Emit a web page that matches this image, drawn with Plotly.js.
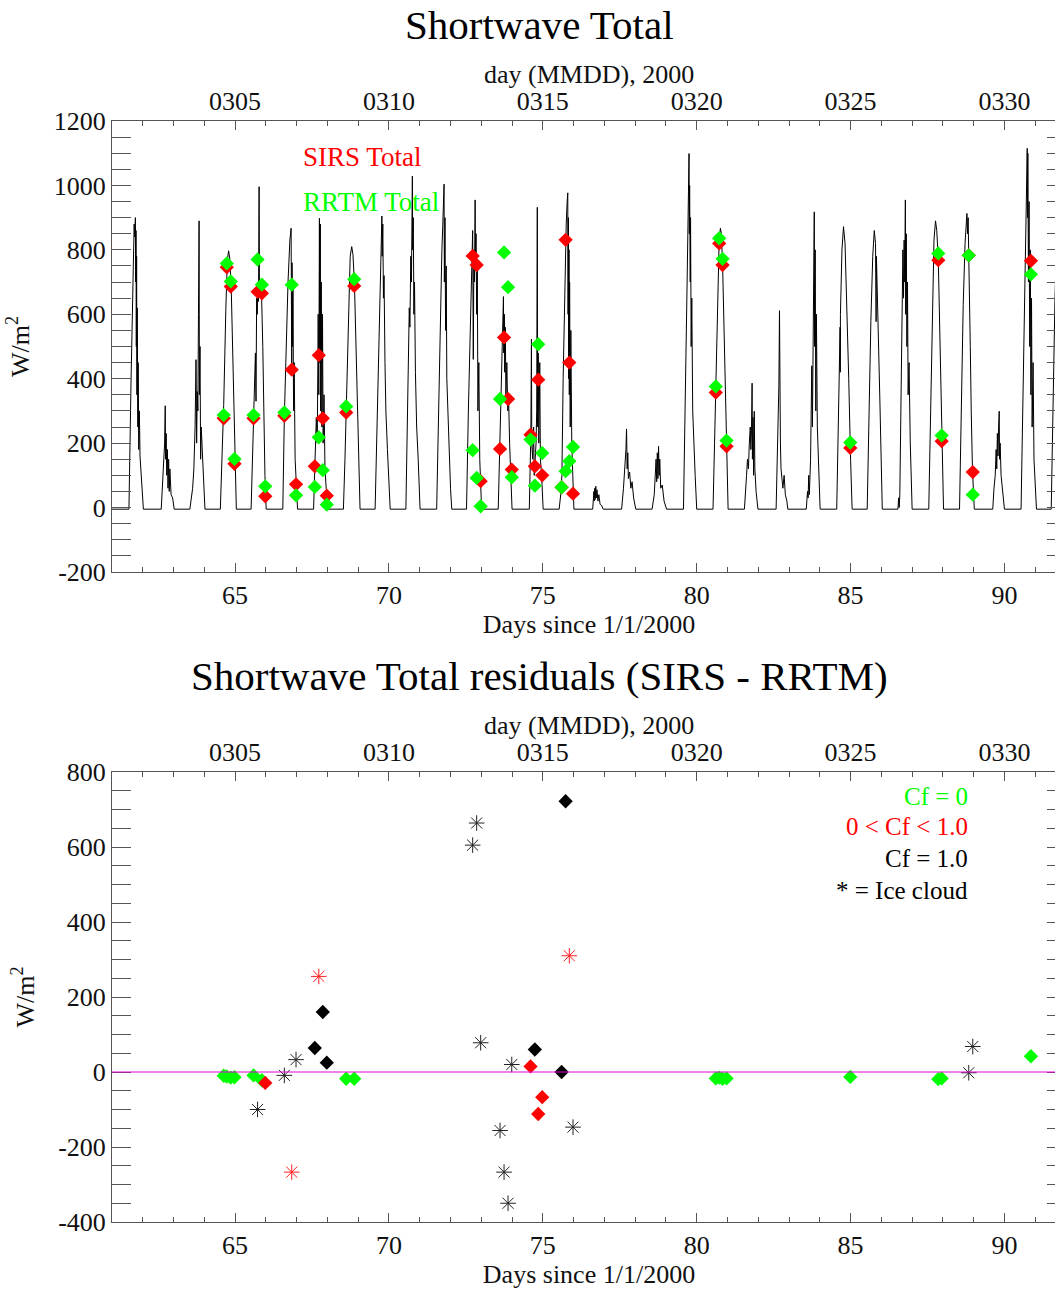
<!DOCTYPE html>
<html><head><meta charset="utf-8">
<script src="https://cdn.plot.ly/plotly-3.0.1.min.js"></script>
<style>html,body{margin:0;padding:0;overflow:hidden;background:#fff}#chart{width:1080px;height:1289px}</style>
</head><body><div id="chart"></div><script>
// ---- Black line: SIRS shortwave total time series (day, W/m2) ----
const swDay = [
61.00,61.55,61.62,61.68,61.72,61.74,61.76,61.77,61.78,61.79,61.80,61.81,61.82,61.84,61.85,61.87,61.89,61.91,61.94,61.98,62.02,
62.60,62.64,62.68,62.71,62.73,62.74,62.76,62.78,62.80,62.82,62.84,62.86,62.88,62.92,62.97,63.02,
63.53,63.58,63.62,63.66,63.70,63.73,63.75,63.77,63.79,63.81,63.83,63.84,63.86,63.88,63.90,63.93,63.96,64.02,
64.52,64.57,64.63,64.70,64.75,64.79,64.83,64.88,64.94,65.00,65.04,
65.52,65.56,65.60,65.63,65.66,65.68,65.70,65.72,65.74,65.76,65.78,65.79,65.82,65.86,65.90,65.94,65.97,66.01,
66.55,66.60,66.66,66.72,66.78,66.82,66.84,66.85,66.87,66.88,66.90,66.92,66.95,66.98,67.03,
67.55,67.60,67.64,67.67,67.70,67.72,67.74,67.75,67.77,67.78,67.80,67.82,67.84,67.86,67.89,67.92,67.96,68.03,
68.52,68.57,68.62,68.68,68.74,68.79,68.83,68.88,68.94,69.00,69.06,
69.55,69.62,69.68,69.72,69.74,69.76,69.77,69.78,69.80,69.82,69.84,69.87,69.90,69.95,70.04,
70.55,70.62,70.66,70.68,70.71,70.73,70.75,70.76,70.77,70.79,70.81,70.83,70.86,70.90,70.95,71.01,
71.55,71.62,71.68,71.72,71.75,71.77,71.79,71.80,71.82,71.84,71.86,71.88,71.91,71.95,72.00,72.04,
72.52,72.58,72.63,72.67,72.70,72.72,72.74,72.76,72.78,72.80,72.81,72.83,72.85,72.87,72.89,72.92,72.95,72.98,73.01,
73.55,73.59,73.62,73.65,73.68,73.70,73.72,73.73,73.75,73.76,73.78,73.80,73.83,73.86,73.89,73.92,73.96,74.00,
74.56,74.59,74.61,74.63,74.64,74.67,74.70,74.72,74.75,74.78,74.80,74.82,74.83,74.85,74.87,74.90,74.92,74.96,75.01,
75.53,75.58,75.62,75.66,75.70,75.73,75.76,75.79,75.81,75.82,75.83,75.84,75.85,75.86,75.87,75.89,75.91,75.94,75.97,76.01,
76.62,76.64,76.66,76.67,76.69,76.70,76.72,76.74,76.76,76.79,76.82,76.86,76.92,76.96,
77.56,77.62,77.66,77.70,77.72,77.74,77.76,77.78,77.82,77.86,77.90,77.95,78.02,
78.55,78.62,78.66,78.68,78.70,78.72,78.74,78.76,78.78,78.80,78.83,78.88,78.94,79.02,
79.57,79.63,79.68,79.72,79.74,79.75,79.76,79.77,79.79,79.80,79.82,79.84,79.87,79.90,79.95,80.00,
80.53,80.58,80.62,80.68,80.73,80.77,80.80,80.84,80.90,80.96,81.02,
81.55,81.58,81.62,81.65,81.68,81.71,81.74,81.76,81.78,81.80,81.81,81.83,81.85,81.87,81.89,81.93,81.99,
82.58,82.61,82.63,82.65,82.67,82.69,82.70,82.72,82.74,82.77,82.80,82.84,82.88,82.93,82.96,
83.56,83.60,83.62,83.64,83.66,83.70,83.72,83.74,83.76,83.78,83.80,83.82,83.83,83.85,83.87,83.89,83.92,83.96,84.01,
84.55,84.61,84.66,84.665,84.67,84.72,84.77,84.82,84.88,84.94,85.00,85.05,
85.54,85.60,85.66,85.72,85.77,85.81,85.83,85.84,85.89,85.95,86.03,
86.54,86.56,86.58,86.60,86.63,86.67,86.70,86.72,86.74,86.76,86.78,86.79,86.81,86.83,86.85,86.87,86.90,86.94,87.00,
87.54,87.60,87.66,87.71,87.76,87.80,87.85,87.91,87.97,88.02,
88.54,88.60,88.66,88.72,88.76,88.78,88.80,88.82,88.84,88.86,88.89,88.92,88.96,89.02,
89.62,89.66,89.70,89.73,89.75,89.77,89.79,89.81,89.83,89.84,89.86,89.89,89.94,90.00,
90.54,90.60,90.66,90.70,90.72,90.74,90.75,90.76,90.78,90.80,90.82,90.84,90.86,90.88,90.90,90.93,90.96,91.00,91.04,
91.52,91.58,91.64,91.70
];
const swFlux = [
-5,-5,400,750,880,840,900,700,860,500,780,350,620,250,450,180,300,160,120,40,-5,
-5,60,120,200,316,150,230,100,180,60,150,50,120,40,30,-5,
-5,30,60,120,250,459,200,360,300,600,890,350,500,150,250,185,100,-5,
-5,150,320,620,770,797,770,660,420,130,-5,
-5,150,290,420,480,330,650,600,700,640,996,700,690,660,500,250,100,-5,
-5,280,520,700,830,867,420,760,500,680,300,450,150,70,-5,
-5,130,280,200,600,350,898,450,880,300,700,250,600,200,350,120,60,-5,
-5,150,320,600,780,810,785,690,470,220,-5,
-5,300,600,760,825,870,905,780,880,650,720,450,300,180,-5,
-5,350,620,560,780,700,880,1029,800,900,600,700,420,250,150,-5,
-5,350,650,800,880,950,1004,700,900,550,750,400,300,180,60,-5,
-5,300,520,650,780,860,460,800,700,955,750,850,600,760,300,450,150,60,-5,
-5,120,250,380,500,560,655,480,600,420,560,350,450,300,330,200,110,-5,
-5,100,226,523,200,150,250,100,140,200,300,932,250,480,200,450,150,100,-5,
-5,40,100,400,650,800,880,950,977,600,900,400,800,350,700,250,550,200,80,-5,
-5,30,50,20,60,25,66,30,55,20,40,10,5,-5,
-5,60,110,180,244,120,170,90,110,60,80,30,-5,
-5,40,100,150,80,170,90,190,100,150,60,70,20,-5,
-5,300,650,900,1000,1099,850,1000,700,900,500,650,300,200,100,-5,
-5,200,370,650,830,867,850,760,500,210,-5,
-5,60,100,150,120,200,250,180,240,386,150,280,100,299,120,50,-5,
-5,100,180,250,380,611,300,200,120,80,60,100,40,20,-5,
-5,50,30,100,40,150,300,440,250,500,700,918,500,800,300,600,250,100,-5,
-5,300,560,420,600,800,872,820,640,400,150,-5,
-5,300,580,780,860,820,577,780,600,340,-5,
-5,30,0,40,300,600,800,650,830,700,955,600,850,500,700,350,450,200,-5,
-5,320,640,830,890,860,770,520,240,-5,
-5,330,630,820,880,913,850,900,780,700,500,300,120,-5,
-5,60,100,180,120,230,160,250,299,150,200,100,60,-5,
-5,350,700,900,1000,1115,900,1100,700,950,500,800,350,650,250,450,150,80,-5,
-5,330,640,850
];

// ---- Comparison times (days since 1/1/2000) ----
const obsDay = [64.63,64.73,64.86,64.98,65.60,65.73,65.87,65.98,66.60,66.84,66.98,67.59,67.72,67.85,67.98,68.61,68.87,
  72.72,72.85,72.98,73.61,73.74,73.87,73.99,74.60,74.74,74.85,74.98,75.61,75.74,75.86,75.98,
  80.62,80.73,80.84,80.97,84.99,87.85,87.96,88.84,88.97,90.86];
const sirsTotal = [277,746,686,136,277,670,665,35,285,428,72,128,473,277,37,295,688,
  781,753,82,182,528,337,118,226,128,397,100,63,831,450,43,
  357,820,753,190,185,768,206,783,110,766];
const rrtmTotal = [287,758,702,151,287,770,692,66,295,692,38,64,218,116,9,314,709,
  178,92,4,337,792,684,94,211,68,507,169,63,113,144,188,
  376,836,772,208,202,789,224,783,40,724];
// ---- Residuals (SIRS - RRTM) as plotted, cloud class, ice flag ----
const residual = [-10,-12,-15,-14,-9,-100,-22,-29,-9,-267,33,64,255,160,25,-18,-18,
  605,664,78,-156,-267,-350,20,15,60,-112,-67,0,722,310,-147,
  -17,-15,-18,-17,-13,-19,-17,-2,68,42];
const cloudClass = [0,0,0,0,0,2,0,1,2,1,2,2,1,2,2,0,0,
  2,2,2,2,2,2,2,1,2,1,1,2,2,1,2,
  0,0,0,0,0,0,0,2,2,0]; // 0: Cf=0, 1: 0<Cf<1, 2: Cf=1
const iceCloud = [0,0,0,0,0,1,0,0,1,1,1,0,1,0,0,0,0,
  1,1,1,1,1,1,1,0,0,0,0,0,0,1,1,
  0,0,0,0,0,0,0,1,1,0];

// ---- Tick labels ----
const dayTicks = [65,70,75,80,85,90];
const mmddLabels = ['0305','0310','0315','0320','0325','0330'];
const topYTicks = [-200,0,200,400,600,800,1000,1200];
const topYLabels = ['-200','0','200','400','600','800','1000','1200'];
const botYTicks = [-400,-200,0,200,400,600,800];
const botYLabels = ['-400','-200','0','200','400','600','800'];

const SERIF = '"Liberation Serif", "Times New Roman", Times, serif';
const AX = '#555';
const tickFont = {family: SERIF, size: 26, color: '#111'};
const titleFont = {family: SERIF, size: 26, color: '#111'};

function pick(arr, cls, ice) {
  const out = [];
  for (let i = 0; i < obsDay.length; i++) if (cloudClass[i] === cls && iceCloud[i] === ice) out.push(arr[i]);
  return out;
}

const traces = [
  {type:'scatter', mode:'lines', x: swDay, y: swFlux, xaxis:'x', yaxis:'y',
   line:{color:'#000', width:1}, hoverinfo:'skip'},
  {type:'scatter', mode:'markers', x: obsDay, y: sirsTotal, xaxis:'x', yaxis:'y',
   marker:{symbol:'diamond', size:11, color:'#ff0000', line:{width:0}}},
  {type:'scatter', mode:'markers', x: obsDay, y: rrtmTotal, xaxis:'x', yaxis:'y',
   marker:{symbol:'diamond', size:11, color:'#00ff00', line:{width:0}}},
  // invisible carriers so the top (MMDD) axes are drawn
  {type:'scatter', mode:'markers', x: obsDay, y: rrtmTotal, xaxis:'x2', yaxis:'y',
   marker:{size:1, opacity:0}, hoverinfo:'skip'},
  {type:'scatter', mode:'markers', x: obsDay, y: residual, xaxis:'x4', yaxis:'y2',
   marker:{size:1, opacity:0}, hoverinfo:'skip'},
  // residuals
  {type:'scatter', mode:'markers', x: pick(obsDay,0,0), y: pick(residual,0,0), xaxis:'x3', yaxis:'y2',
   marker:{symbol:'diamond', size:11, color:'#00ff00', line:{width:0}}},
  {type:'scatter', mode:'markers', x: pick(obsDay,1,0), y: pick(residual,1,0), xaxis:'x3', yaxis:'y2',
   marker:{symbol:'diamond', size:11, color:'#ff0000', line:{width:0}}},
  {type:'scatter', mode:'markers', x: pick(obsDay,2,0), y: pick(residual,2,0), xaxis:'x3', yaxis:'y2',
   marker:{symbol:'diamond', size:11, color:'#000000', line:{width:0}}},
  {type:'scatter', mode:'markers', x: pick(obsDay,1,1), y: pick(residual,1,1), xaxis:'x3', yaxis:'y2',
   marker:{symbol:'asterisk-open', size:13, color:'#ff2020', line:{width:1, color:'#ff2020'}}},
  {type:'scatter', mode:'markers', x: pick(obsDay,2,1), y: pick(residual,2,1), xaxis:'x3', yaxis:'y2',
   marker:{symbol:'asterisk-open', size:13, color:'#222', line:{width:1, color:'#222'}}}
];

const TOPDOM = [0.5904, 1];
const BOTDOM = [0, 0.4087];

function bottomX(anchor) {
  return {anchor: anchor, range:[61,92], autorange:false, showgrid:false, zeroline:false,
    showline:true, linecolor:AX, linewidth:1, ticks:'inside', ticklen:9, tickwidth:1, tickcolor:AX,
    tickmode:'linear', tick0:65, dtick:5, tickfont: tickFont,
    minor:{ticks:'inside', tickmode:'linear', tick0:61, dtick:1, ticklen:5, tickcolor:AX, tickwidth:1, showgrid:false},
    title:{text:'Days since 1/1/2000', font: titleFont, standoff: 2}};
}
function topX(anchor, overlay) {
  return {anchor: anchor, overlaying: overlay, side:'top', range:[61,92], autorange:false,
    showgrid:false, zeroline:false, showline:true, linecolor:AX, linewidth:1,
    ticks:'inside', ticklen:9, tickwidth:1, tickcolor:AX,
    tickmode:'array', tickvals: dayTicks, ticktext: mmddLabels, tickfont: tickFont,
    minor:{ticks:'inside', tickmode:'linear', tick0:61, dtick:1, ticklen:5, tickcolor:AX, tickwidth:1, showgrid:false}};
}
function yAx(dom, anchor, range, vals, labels) {
  return {domain: dom, anchor: anchor, range: range, autorange:false, showgrid:false, zeroline:false,
    showline:true, linecolor:AX, linewidth:1, mirror:'allticks',
    ticks:'inside', ticklen:19, tickwidth:1, tickcolor:AX,
    tickmode:'array', tickvals: vals, ticktext: labels, tickfont: tickFont,
    minor:{ticks:'inside', tickmode:'linear', tick0:0, dtick:50, ticklen:10, tickcolor:AX, tickwidth:1, showgrid:false},
    title:{text:'W/m<sup>2</sup>', font: titleFont, standoff: 16}};
}

function note(text, x, y, anchor, size, color) {
  return {text: text, xref:'paper', yref:'paper', x: x, y: y, xanchor: anchor, yanchor:'middle',
    showarrow:false, font:{family:SERIF, size:size, color:color}};
}

const layout = {
  width:1080, height:1289, paper_bgcolor:'#fff', plot_bgcolor:'#fff', showlegend:false,
  margin:{l:112, r:14, t:121, b:67, autoexpand:false},
  xaxis: bottomX('y'),
  xaxis2: topX('y','x'),
  yaxis: yAx(TOPDOM, 'x', [-200,1200], topYTicks, topYLabels),
  xaxis3: bottomX('y2'),
  xaxis4: topX('y2','x3'),
  yaxis2: yAx(BOTDOM, 'x3', [-400,800], botYTicks, botYLabels),
  shapes:[{type:'line', xref:'x3 domain', x0:0, x1:1, yref:'y2', y0:0, y1:0, line:{color:'#e000e0', width:1}}],
  annotations:[
    note('Shortwave Total', 0.4486, 1.0872, 'center', 41, '#000'),
    note('day (MMDD), 2000', 0.5, 1.0418, 'center', 26, '#111'),
    note('Shortwave Total residuals (SIRS - RRTM)', 0.4486, 0.4959, 'center', 41, '#000'),
    note('day (MMDD), 2000', 0.5, 0.4505, 'center', 26, '#111'),
    note('SIRS Total', 0.1982, 0.9673, 'left', 27, '#ff0000'),
    note('RRTM Total', 0.1982, 0.9264, 'left', 27, '#00ff00'),
    note('Cf = 0', 0.8993, 0.3869, 'right', 25, '#00ff00'),
    note('0 < Cf < 1.0', 0.8993, 0.3588, 'right', 25, '#ff0000'),
    note('Cf = 1.0', 0.8993, 0.3306, 'right', 25, '#000'),
    note('* = Ice cloud', 0.8993, 0.3015, 'right', 25, '#000')
  ]
};

Plotly.newPlot('chart', traces, layout, {displayModeBar:false, staticPlot:true});
</script></body></html>
